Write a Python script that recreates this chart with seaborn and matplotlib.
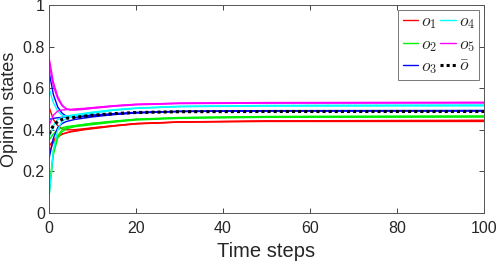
import matplotlib
matplotlib.use("Agg")
import matplotlib.pyplot as plt
import seaborn as sns
import pandas as pd

t = [0, 1, 2, 3, 4, 5, 6, 8, 10, 15, 20, 30, 50, 100]

# group o1 (red)
o1_a = [0.51, 0.45, 0.42, 0.405, 0.40, 0.40, 0.401, 0.405, 0.41, 0.42, 0.43, 0.437, 0.44, 0.44]
o1_b = [0.32, 0.35, 0.37, 0.38, 0.385, 0.39, 0.393, 0.40, 0.405, 0.418, 0.428, 0.437, 0.442, 0.444]
o1_c = [0.29, 0.34, 0.365, 0.378, 0.386, 0.392, 0.396, 0.402, 0.408, 0.42, 0.43, 0.438, 0.443, 0.446]
# group o2 (green)
o2_a = [0.08, 0.28, 0.36, 0.39, 0.405, 0.41, 0.415, 0.42, 0.425, 0.437, 0.447, 0.455, 0.46, 0.461]
o2_b = [0.35, 0.38, 0.40, 0.41, 0.415, 0.418, 0.42, 0.425, 0.43, 0.44, 0.45, 0.458, 0.463, 0.465]
o2_c = [0.10, 0.30, 0.37, 0.40, 0.41, 0.415, 0.42, 0.426, 0.432, 0.442, 0.451, 0.459, 0.464, 0.466]
# group o3 (blue)
o3_a = [0.68, 0.57, 0.51, 0.48, 0.465, 0.46, 0.46, 0.463, 0.467, 0.475, 0.482, 0.488, 0.49, 0.49]
o3_b = [0.26, 0.36, 0.41, 0.43, 0.44, 0.445, 0.45, 0.456, 0.462, 0.473, 0.481, 0.488, 0.491, 0.492]
o3_c = [0.45, 0.455, 0.458, 0.46, 0.462, 0.463, 0.465, 0.468, 0.471, 0.478, 0.484, 0.489, 0.492, 0.493]
# group o4 (cyan)
o4_a = [0.60, 0.53, 0.49, 0.47, 0.465, 0.465, 0.468, 0.475, 0.482, 0.495, 0.503, 0.511, 0.514, 0.515]
o4_b = [0.07, 0.30, 0.40, 0.44, 0.455, 0.46, 0.465, 0.473, 0.48, 0.494, 0.503, 0.512, 0.516, 0.518]
o4_c = [0.36, 0.42, 0.45, 0.46, 0.466, 0.47, 0.473, 0.479, 0.485, 0.497, 0.505, 0.513, 0.517, 0.519]
# group o5 (magenta)
o5_a = [0.75, 0.63, 0.56, 0.52, 0.50, 0.495, 0.495, 0.498, 0.503, 0.513, 0.52, 0.526, 0.528, 0.529]
o5_b = [0.72, 0.61, 0.55, 0.515, 0.50, 0.497, 0.498, 0.50, 0.505, 0.515, 0.522, 0.528, 0.53, 0.531]
o5_c = [0.42, 0.47, 0.49, 0.495, 0.497, 0.498, 0.50, 0.503, 0.507, 0.516, 0.523, 0.528, 0.531, 0.532]
# average opinion (black dotted)
o_bar = [0.38, 0.42, 0.44, 0.45, 0.455, 0.458, 0.46, 0.465, 0.47, 0.478, 0.483, 0.487, 0.488, 0.488]

groups = [
    ("$o_1$", "#ff0000", [o1_a, o1_b, o1_c]),
    ("$o_2$", "#00ee00", [o2_a, o2_b, o2_c]),
    ("$o_3$", "#0000ff", [o3_a, o3_b, o3_c]),
    ("$o_4$", "#00ffff", [o4_a, o4_b, o4_c]),
    ("$o_5$", "#ff00ff", [o5_a, o5_b, o5_c]),
]

sns.set_theme(style="white")
plt.rcParams['font.family'] = ['Liberation Sans', 'DejaVu Sans']
plt.rcParams['mathtext.fontset'] = 'cm'

fig = plt.figure(figsize=(4.99, 2.65), dpi=100)
ax = fig.add_axes([49/499, 1 - 213/265, (484 - 49)/499, (213 - 5)/265])

for label, color, lines in groups:
    for i, vals in enumerate(lines):
        df = pd.DataFrame({"t": t, "v": vals})
        sns.lineplot(data=df, x="t", y="v", ax=ax, color=color, lw=1.0,
                     label=label if i == 0 else None, legend=False)
df = pd.DataFrame({"t": t, "v": o_bar})
sns.lineplot(data=df, x="t", y="v", ax=ax, color="black", lw=2.2,
             linestyle=(0, (1, 1)), label=r"$\bar{o}$", legend=False)

ax.set_xlim(0, 100)
ax.set_ylim(0, 1)
ax.set_xticks([0, 20, 40, 60, 80, 100])
ax.set_yticks([0, 0.2, 0.4, 0.6, 0.8, 1])
ax.set_yticklabels(["0", "0.2", "0.4", "0.6", "0.8", "1"])
ax.set_xlabel("Time steps", fontsize=14.5, color="#262626", labelpad=4)
ax.set_ylabel("Opinion states", fontsize=13, color="#262626", labelpad=3)
ax.tick_params(direction="in", length=3.5, width=0.6, colors="#262626",
               labelsize=11.5, top=True, right=True, bottom=True, left=True)
ax.tick_params(axis="x", pad=6)
ax.tick_params(axis="y", pad=3)
for s in ax.spines.values():
    s.set_color("#555555")
    s.set_linewidth(0.7)

leg = ax.legend(ncol=2, loc="upper right", fontsize=12.5, frameon=True,
                handlelength=0.9, handletextpad=0.15, columnspacing=0.2,
                labelspacing=0.3, borderpad=0.25, fancybox=False,
                borderaxespad=0, bbox_to_anchor=((479 - 49) / 435, (213 - 10) / 208))
leg.get_frame().set_edgecolor("#555555")
leg.get_frame().set_linewidth(0.7)

fig.savefig("out.png", dpi=100)
